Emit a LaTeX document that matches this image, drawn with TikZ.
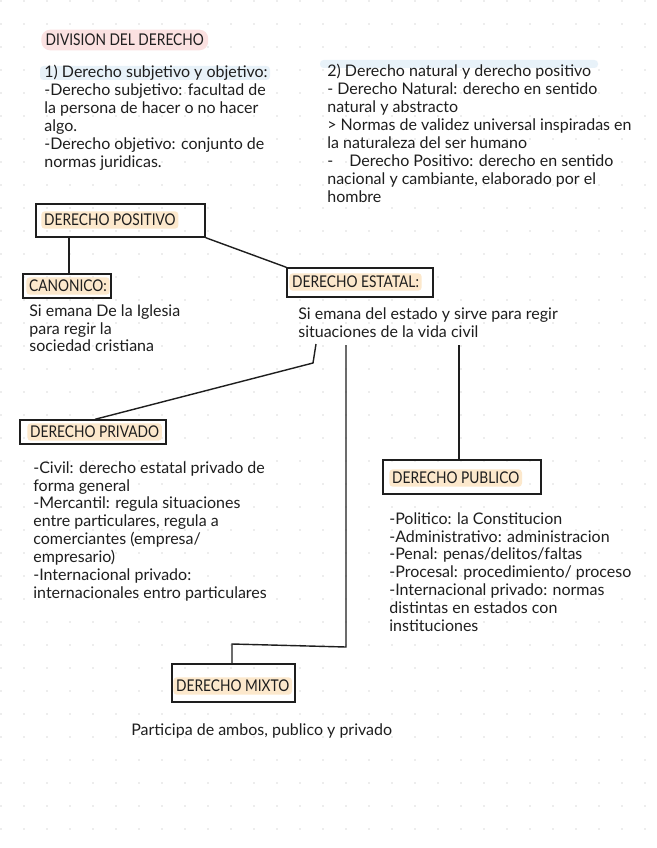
\documentclass[tikz,border=0pt]{standalone}
\usepackage{fontspec}
\setmainfont{Lato}
\usepackage{graphicx}
\usepackage{tikz}
\usetikzlibrary{positioning,calc,fit}
\definecolor{inkgray}{HTML}{1E1E1E}
\definecolor{dotgray}{HTML}{DCDCDC}
\definecolor{hlorange}{HTML}{FCE8CC}
\definecolor{hlpink}{HTML}{FBE1E1}
\definecolor{hlblue}{HTML}{E8F2F9}
\newcommand{\bodyfont}{\fontsize{9.1}{10.2}\selectfont}
\newcommand{\headfont}{\fontsize{9.2}{10}\selectfont}
\newcommand{\boxtitle}[1]{\scalebox{0.85}[1]{#1}}
\tikzset{
  frame/.style={draw=inkgray,line width=0.8pt,inner sep=0pt},
  tag/.style={fill=hlorange,rounded corners=2pt,inner sep=1.6pt,anchor=west,
    font=\headfont,text=inkgray},
  bodytext/.style={anchor=north west,inner sep=0pt,align=left,font=\bodyfont,text=inkgray},
  link/.style={draw=inkgray,line width=0.8pt}
}

\begin{document}
\begin{tikzpicture}[x=0.02cm,y=-0.02cm]
  \useasboundingbox (0,0) rectangle (656,848);
  \fill[white] (0,0) rectangle (656,848);
  % dotted paper
  \foreach \x in {1,24,...,656}
    \foreach \y in {1,24,...,848}
      \fill[dotgray] (\x,\y) circle (0.9);
  % heading and the two definitions
  \node[fill=hlpink,rounded corners=5pt,inner sep=2.5pt,anchor=west,font=\headfont,text=inkgray]
    (title) at (41,40) {\boxtitle{DIVISION DEL DERECHO}};
  \fill[hlblue,rounded corners=2pt] (40,66) rectangle (270,80);
  \fill[hlblue,rounded corners=2pt] (320,60) rectangle (598,68);
  \node[bodytext] (subj) at (44,65) {1) Derecho subjetivo y objetivo:\\
    -Derecho subjetivo: facultad de\\
    la persona de hacer o no hacer\\
    algo.\\
    -Derecho objetivo: conjunto de\\
    normas juridicas.};
  \node[bodytext] (natu) at (327,64) {2) Derecho natural y derecho positivo\\
    - Derecho Natural: derecho en sentido\\
    natural y abstracto\\
    > Normas de validez universal inspiradas en\\
    la naturaleza del ser humano\\
    -\quad Derecho Positivo: derecho en sentido\\
    nacional y cambiante, elaborado por el\\
    hombre};
  % boxes
  \node[frame,fit={(36,204) (205,237)}] (pos) {};
  \node[tag] at (41,220) {\boxtitle{DERECHO POSITIVO}};
  \node[frame,fit={(23,274) (111,298)}] (can) {};
  \node[tag] at (26,286) {\boxtitle{CANONICO:}};
  \node[frame,fit={(287,268) (433,297)}] (est) {};
  \node[tag] at (289,282) {\boxtitle{DERECHO ESTATAL:}};
  \node[frame,fit={(20,420) (166,444)}] (priv) {};
  \node[tag] at (27,432) {\boxtitle{DERECHO PRIVADO}};
  \node[frame,fit={(383,460) (541,494)}] (pub) {};
  \node[tag] at (389,478) {\boxtitle{DERECHO PUBLICO}};
  \node[frame,fit={(172,664) (295,702)}] (mix) {};
  \node[tag] at (173,686) {\boxtitle{DERECHO MIXTO}};
  % texts under the boxes
  \node[bodytext] (canT) at (29,304) {Si emana De la Iglesia\\
    para regir la\\
    sociedad cristiana};
  \node[bodytext] (estT) at (298,307) {Si emana del estado y sirve para regir\\
    situaciones de la vida civil};
  \node[bodytext] (privT) at (33,461) {-Civil: derecho estatal privado de\\
    forma general\\
    -Mercantil: regula situaciones\\
    entre particulares, regula a\\
    comerciantes (empresa/\\
    empresario)\\
    -Internacional privado:\\
    internacionales entro particulares};
  \node[bodytext] (pubT) at (389,512) {-Politico: la Constitucion\\
    -Administrativo: administracion\\
    -Penal: penas/delitos/faltas\\
    -Procesal: procedimiento/ proceso\\
    -Internacional privado: normas\\
    distintas en estados con\\
    instituciones};
  \node[bodytext,anchor=west] (mixT) at (131,731) {Participa de ambos, publico y privado};
  % connectors
  \coordinate (kPriv) at (316,344);
  \coordinate (kMix) at (346,345);
  \coordinate (kPub) at (459,345);
  \draw[link] (pos.south -| 69,0) -- (can.north -| 69,0);
  \draw[link] (pos.south east) -- (est.north west);
  \draw[link] (kPriv) -- (313,363) -- (priv.north -| 95,0);
  \draw[link] (kMix) -- (346,647) -- (232,644) -- (mix.north -| 232,0);
  \draw[link] (kPub) -- (pub.north -| kPub);
\end{tikzpicture}
\end{document}
